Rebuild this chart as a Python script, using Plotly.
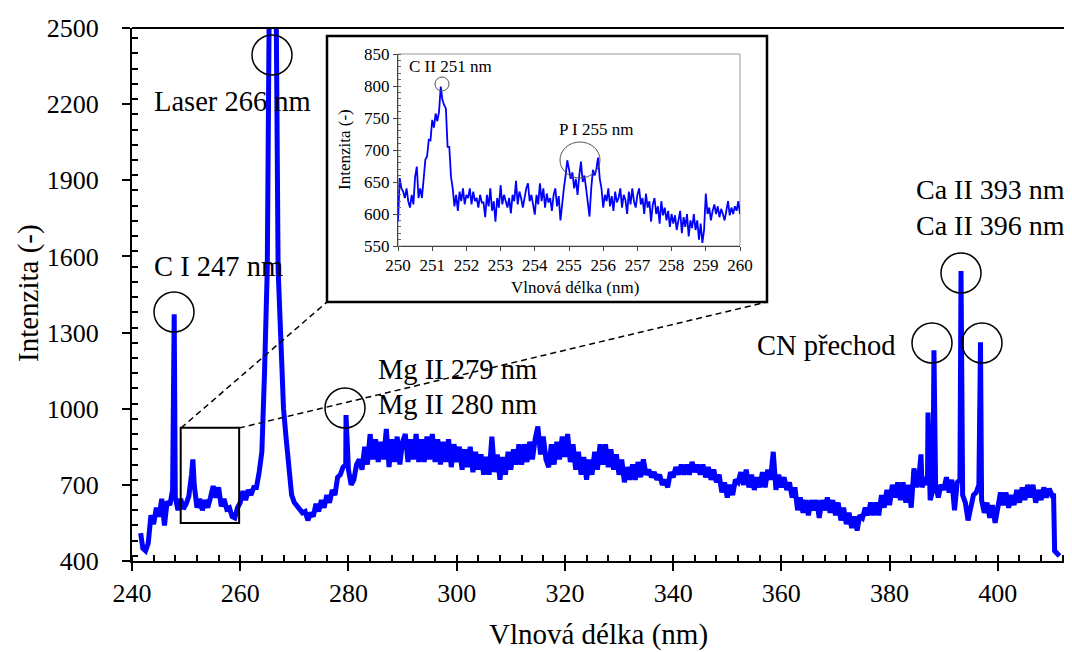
import numpy as np
import plotly.graph_objects as go

# page body adds an 8 px margin, so the figure is a little smaller and shifted
OFF = 8
FW, FH = 1072 - OFF, 652 - OFF
FONT = 'Liberation Serif, Times New Roman, serif'

# main spectrum, one value every 0.5 nm starting at 242.0 nm
main_start = 242.0
main_step = 0.5
main_int = [
    450, 440, 470, 580, 545, 610, 575, 645, 540, 635,      # 242
    620, 680, 650, 600, 645, 605, 625, 655, 740, 700,      # 247
    610, 645, 600, 640, 610, 650, 695, 650, 690, 615,      # 252
    645, 605, 610, 575, 570, 610, 630, 675, 640, 680,      # 257
    660, 690, 690, 750, 830, 1150, 1550, 3000, 3000, 3000,  # 262
    1550, 1250, 1000, 880, 740, 660, 630, 615, 600, 590,   # 267
    595, 560, 590, 575, 625, 595, 640, 610, 660, 630,      # 272
    680, 660, 730, 740, 770, 780, 760, 700, 720, 780,      # 277
    800, 760, 850, 780, 900, 800, 880, 790, 870, 800,      # 282
    920, 770, 880, 790, 890, 780, 870, 900, 790, 880,      # 287
    800, 900, 790, 880, 790, 890, 800, 900, 790, 880,      # 292
    780, 870, 790, 880, 770, 860, 790, 850, 760, 840,      # 297
    770, 850, 750, 830, 760, 820, 740, 810, 740, 890,      # 302
    750, 820, 720, 810, 740, 830, 760, 840, 780, 860,      # 307
    780, 860, 790, 870, 800, 880, 930, 820, 890, 800,      # 312
    770, 860, 780, 870, 800, 890, 810, 900, 790, 860,      # 317
    760, 830, 740, 810, 720, 800, 740, 830, 760, 860,      # 322
    780, 860, 770, 840, 760, 820, 740, 800, 710, 770,      # 327
    720, 780, 720, 790, 730, 800, 740, 760, 730, 750,      # 332
    720, 740, 700, 720, 690, 750, 730, 770, 740, 780,      # 337
    740, 780, 740, 790, 750, 780, 740, 780, 730, 770,      # 342
    720, 760, 710, 740, 670, 710, 650, 700, 660, 720,      # 347
    710, 750, 700, 760, 690, 740, 680, 730, 690, 750,      # 352
    690, 760, 720, 830, 680, 740, 690, 730, 680, 710,      # 357
    650, 690, 600, 650, 590, 640, 580, 640, 600, 640,      # 362
    570, 640, 600, 650, 590, 640, 580, 630, 560, 610,      # 367
    545, 590, 530, 575, 520, 580, 570, 610, 580, 630,      # 372
    580, 630, 580, 660, 610, 680, 620, 700, 650, 710,      # 377
    640, 710, 630, 700, 610, 765, 690, 750, 690, 730,      # 382
    700, 640, 680, 700, 650, 700, 680, 730, 670, 720,      # 387
    600, 710, 720, 660, 630, 560, 620, 660, 670, 700,      # 392
    640, 590, 630, 570, 620, 550, 610, 670, 620, 670,      # 397
    610, 660, 620, 680, 630, 690, 640, 700, 650, 700,      # 402
    630, 680, 640, 690, 650, 685, 660, 440, 425,           # 407
]

# narrow emission lines lying between the 0.5 nm samples
line_wl = [241.6, 247.8, 251.25, 279.55, 385.8, 387.1, 388.2, 393.2, 396.8, 410.3, 411.4]
line_int = [510, 1372, 800, 975, 820, 985, 1230, 1543, 1262, 665, 420]

# inset detail 250-260 nm, one value every 0.05 nm
inset_start = 250.0
inset_step = 0.05
inset_int = [
    588, 656, 640, 635, 625, 640, 620, 610, 630, 615, 658, 674, 625, 640, 625, 660, 685, 690, 716, 715,
    747, 735, 757, 745, 760, 799, 778, 770, 765, 705, 705, 658, 640, 612, 630, 605, 635, 620, 640, 615,
    630, 625, 640, 615, 635, 620, 625, 610, 630, 618, 618, 595, 630, 612, 640, 605, 620, 588, 625, 610,
    645, 615, 630, 620, 610, 625, 601, 630, 620, 652, 615, 635, 625, 610, 628, 640, 648, 620, 630, 612,
    599, 630, 615, 648, 620, 640, 610, 632, 618, 625, 605, 630, 640, 612, 628, 590, 620, 640, 660, 684,
    670, 655, 665, 640, 655, 630, 660, 682, 650, 660, 640, 620, 596, 640, 669, 660, 670, 688, 655, 640,
    610, 630, 620, 640, 612, 628, 605, 635, 618, 625, 640, 610, 630, 622, 600, 635, 615, 640, 620, 610,
    630, 640, 615, 625, 600, 632, 610, 620, 588, 615, 625, 600, 612, 585, 620, 598, 610, 590, 605, 580,
    600, 585, 598, 575, 590, 605, 570, 595, 580, 600, 565, 590, 578, 600, 575, 590, 560, 585, 555, 575,
    632, 600, 610, 590, 605, 615, 600, 612, 595, 608, 600, 590, 605, 620, 598, 610, 600, 612, 605, 620,
    600,
]

# peak labels (main chart)
labels = ['Laser 266 nm', 'C I 247 nm', 'Mg II 279 nm', 'Mg II 280 nm',
          'CN přechod', 'Ca II 393 nm', 'Ca II 396 nm']
inset_labels = ['C II 251 nm', 'P I 255 nm']

# merge the sampled spectrum with the narrow lines
grid_wl = np.round(main_start + main_step * np.arange(len(main_int)), 2)
wl = np.concatenate([grid_wl, line_wl])
inten = np.concatenate([main_int, line_int])
order = np.argsort(wl, kind='stable')
wl, inten = wl[order], inten[order]

inset_wl = np.round(inset_start + inset_step * np.arange(len(inset_int)), 2)


# screen pixel -> paper fraction
def px(x):
    return (x - OFF) / FW


def py(y):
    return 1 - (y - OFF) / FH


fig = go.Figure()
fig.add_trace(go.Scatter(x=wl, y=inten, mode='lines',
                         line=dict(color='#0000FF', width=5),
                         xaxis='x', yaxis='y', hoverinfo='skip'))
fig.add_trace(go.Scatter(x=inset_wl, y=inset_int, mode='lines',
                         line=dict(color='#0000FF', width=1.8),
                         xaxis='x2', yaxis='y2', hoverinfo='skip'))

shapes = []
# circles around the lines (pixel centre, radius)
circles = [(272, 55, 20, 20), (174, 312, 20, 20), (345, 408, 20, 20),
           (932, 343, 20, 20), (961, 273, 20, 20), (982, 343, 20, 20)]
for cx, cy, rx, ry in circles:
    shapes.append(dict(type='circle', xref='paper', yref='paper',
                       x0=px(cx - rx), x1=px(cx + rx), y0=py(cy + ry), y1=py(cy - ry),
                       line=dict(color='black', width=1.5), layer='above'))
for cx, cy, rx, ry in [(442, 84, 7, 7), (580, 160, 20, 18)]:
    shapes.append(dict(type='circle', xref='paper', yref='paper',
                       x0=px(cx - rx), x1=px(cx + rx), y0=py(cy + ry), y1=py(cy - ry),
                       line=dict(color='#555555', width=1), layer='above'))

# zoom box on the main chart
shapes.append(dict(type='rect', xref='x', yref='y', x0=249.0, x1=259.8, y0=550, y1=925,
                   line=dict(color='black', width=2)))
# dashed guide lines to the inset
shapes.append(dict(type='line', xref='paper', yref='paper', x0=px(181), y0=py(428),
                   x1=px(327), y1=py(302), line=dict(color='black', width=1.5, dash='6px,4px')))
shapes.append(dict(type='line', xref='paper', yref='paper', x0=px(239), y0=py(428),
                   x1=px(767), y1=py(302), line=dict(color='black', width=1.5, dash='6px,4px')))
# inset frame + inset plot border
shapes.append(dict(type='rect', xref='paper', yref='paper', x0=px(327), x1=px(767),
                   y0=py(302), y1=py(36), line=dict(color='black', width=2.5),
                   fillcolor='white', layer='below'))
shapes.append(dict(type='rect', xref='paper', yref='paper', x0=px(398), x1=px(740),
                   y0=py(246), y1=py(54), line=dict(color='#999999', width=1), layer='below'))
# top border line of main chart
shapes.append(dict(type='line', xref='paper', yref='paper', x0=px(132), x1=px(1066),
                   y0=py(28), y1=py(28), line=dict(color='black', width=2)))

annotations = []
label_pos = [(152, 101), (152, 266), (376, 369), (376, 404), (755, 345), (914, 190), (914, 226)]
label_size = [28.5, 28.5, 28.5, 28.5, 28.5, 28, 28]
for text, (x, y), fs in zip(labels, label_pos, label_size):
    annotations.append(dict(xref='paper', yref='paper', x=px(x), y=py(y), text=text,
                            xanchor='left', yanchor='middle', showarrow=False,
                            font=dict(family=FONT, size=fs, color='black')))
for text, (x, y) in zip(inset_labels, [(407, 67), (557, 129)]):
    annotations.append(dict(xref='paper', yref='paper', x=px(x), y=py(y), text=text,
                            xanchor='left', yanchor='middle', showarrow=False,
                            font=dict(family=FONT, size=17, color='black')))
# axis titles
annotations.append(dict(xref='paper', yref='paper', x=px(598), y=py(634), text='Vlnová délka (nm)',
                        xanchor='center', yanchor='middle', showarrow=False,
                        font=dict(family=FONT, size=29, color='black')))
annotations.append(dict(xref='paper', yref='paper', x=px(28), y=py(293), text='Intenzita (-)',
                        xanchor='center', yanchor='middle', showarrow=False, textangle=-90,
                        font=dict(family=FONT, size=29, color='black')))
annotations.append(dict(xref='paper', yref='paper', x=px(575), y=py(287), text='Vlnová délka (nm)',
                        xanchor='center', yanchor='middle', showarrow=False,
                        font=dict(family=FONT, size=17, color='black')))
annotations.append(dict(xref='paper', yref='paper', x=px(344), y=py(150), text='Intenzita (-)',
                        xanchor='center', yanchor='middle', showarrow=False, textangle=-90,
                        font=dict(family=FONT, size=17, color='black')))

fig.update_layout(
    width=FW, height=FH,
    margin={'l': 0, 'r': 0, 't': 0, 'b': 0, 'autoexpand': False},
    paper_bgcolor='white',
    plot_bgcolor='rgba(0,0,0,0)',
    showlegend=False,
    shapes=shapes,
    annotations=annotations,
    xaxis=dict(domain=[px(132), px(1066)], range=[240, 412.6], anchor='y', automargin=False,
               tickmode='linear', tick0=240, dtick=20,
               ticks='outside', ticklen=8, tickwidth=2, tickcolor='black',
               minor=dict(ticks='inside', dtick=4, ticklen=6, tickwidth=1.5, tickcolor='black'),
               showline=True, linewidth=2, linecolor='black',
               showgrid=False, zeroline=False, ticklabelstandoff=0,
               tickfont=dict(family=FONT, size=26, color='black')),
    yaxis=dict(domain=[py(561), py(28)], range=[400, 2500], anchor='x', automargin=False,
               tickmode='linear', tick0=400, dtick=300,
               ticks='outside', ticklen=8, tickwidth=2, tickcolor='black',
               minor=dict(ticks='inside', dtick=60, ticklen=6, tickwidth=1.5, tickcolor='black'),
               showline=True, linewidth=2, linecolor='black',
               showgrid=False, zeroline=False, ticklabelstandoff=18,
               tickfont=dict(family=FONT, size=26, color='black')),
    xaxis2=dict(domain=[px(398), px(740)], range=[250, 260], anchor='y2', automargin=False,
                tickmode='linear', tick0=250, dtick=1,
                ticks='outside', ticklen=4, tickwidth=1, tickcolor='#444444',
                showline=True, linewidth=1, linecolor='#444444',
                showgrid=False, zeroline=False,
                tickfont=dict(family=FONT, size=17, color='black')),
    yaxis2=dict(domain=[py(246), py(54)], range=[550, 850], anchor='x2', automargin=False,
                tickmode='linear', tick0=550, dtick=50,
                ticks='outside', ticklen=4, tickwidth=1, tickcolor='#444444',
                minor=dict(ticks='inside', dtick=10, ticklen=3, tickwidth=1, tickcolor='#666666'),
                showline=True, linewidth=1, linecolor='#444444',
                showgrid=False, zeroline=False,
                tickfont=dict(family=FONT, size=17, color='black')),
)

fig.write_html("out.html")
